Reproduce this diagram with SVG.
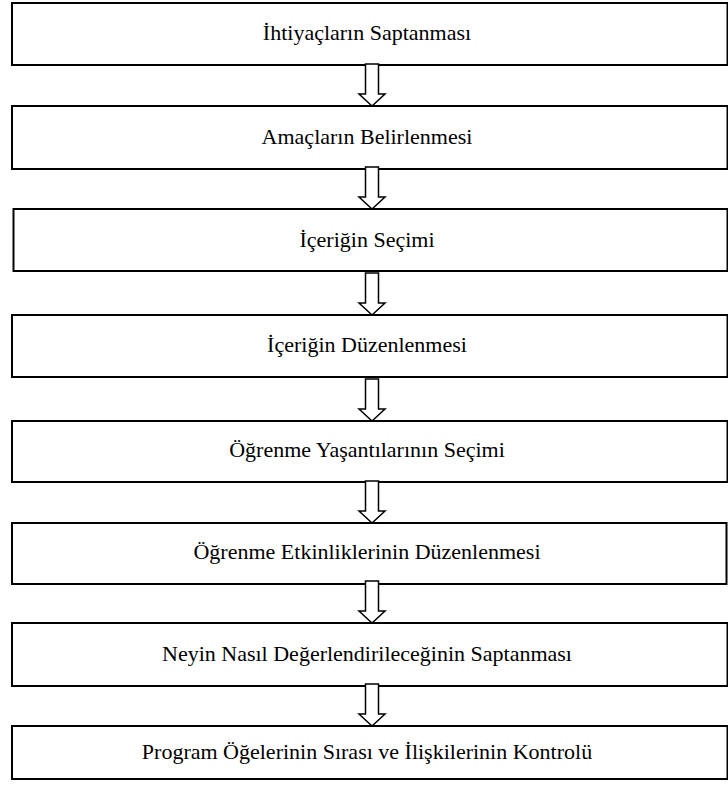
<svg xmlns="http://www.w3.org/2000/svg" width="728" height="790" viewBox="0 0 728 790">
  <style>
    .box { fill: #ffffff; stroke: #000000; stroke-width: 2; }
    .lbl { font-family: 'Liberation Serif', 'Times New Roman', serif; font-size: 22px; fill: #000000; text-anchor: middle; }
    .arr { fill: #ffffff; stroke: #000000; stroke-width: 1.5; stroke-linejoin: miter; }
  </style>
  <defs>
    <!-- hollow block arrow, tip at origin -->
    <path id="down" d="M -6.5 -42 L 6.5 -42 L 6.5 -12 L 13 -12 L 0 0 L -13 -12 L -6.5 -12 Z"/>
  </defs>
  <rect width="728" height="790" fill="#ffffff"/>

  <g id="node1"><rect class="box" x="12" y="3" width="715.5" height="62"/><text class="lbl" x="367" y="40">İhtiyaçların Saptanması</text></g>
  <g id="node2"><rect class="box" x="12" y="106" width="715.5" height="63"/><text class="lbl" x="367" y="144">Amaçların Belirlenmesi</text></g>
  <g id="node3"><rect class="box" x="13.5" y="209" width="714" height="62"/><text class="lbl" x="367" y="247">İçeriğin Seçimi</text></g>
  <g id="node4"><rect class="box" x="12" y="315" width="715.5" height="62"/><text class="lbl" x="367" y="352">İçeriğin Düzenlenmesi</text></g>
  <g id="node5"><rect class="box" x="12" y="421" width="715.5" height="61"/><text class="lbl" x="367" y="457">Öğrenme Yaşantılarının Seçimi</text></g>
  <g id="node6"><rect class="box" x="12" y="523" width="714.5" height="61"/><text class="lbl" x="367" y="559">Öğrenme Etkinliklerinin Düzenlenmesi</text></g>
  <g id="node7"><rect class="box" x="12" y="623" width="715.5" height="63"/><text class="lbl" x="367" y="661">Neyin Nasıl Değerlendirileceğinin Saptanması</text></g>
  <g id="node8"><rect class="box" x="12" y="726" width="715.5" height="53"/><text class="lbl" x="367" y="759">Program Öğelerinin Sırası ve İlişkilerinin Kontrolü</text></g>

  <g id="connectors">
    <use href="#down" class="arr" x="372" y="106"/>
    <use href="#down" class="arr" x="372" y="209"/>
    <use href="#down" class="arr" x="372" y="315"/>
    <use href="#down" class="arr" x="372" y="421"/>
    <use href="#down" class="arr" x="372" y="523"/>
    <use href="#down" class="arr" x="372" y="623"/>
    <use href="#down" class="arr" x="372" y="726"/>
  </g>
</svg>
